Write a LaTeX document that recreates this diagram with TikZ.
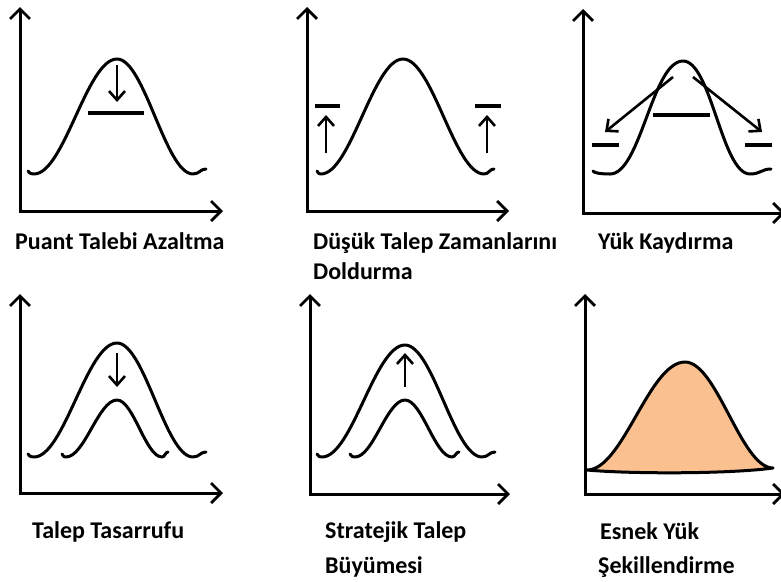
\documentclass[tikz,border=0pt]{standalone}
\usepackage{fontspec}
\setmainfont{Carlito}
\usetikzlibrary{arrows.meta}
\definecolor{peach}{RGB}{250,192,143}
\newcommand{\bellk}{0.363}
% #1 start x, #2 left min x, #3 peak x, #4 right min x, #5 hook end x, #6 base y, #7 peak y
\newcommand{\bellcurve}[7]{%
  \draw[curve] ({#1},{#6-3}) .. controls ({#1+2},{#6}) and ({#2-2},{#6}) .. ({#2},{#6})
    .. controls ({#2+\bellk*(#3-#2)},{#6}) and ({#3-\bellk*(#3-#2)},{#7}) .. ({#3},{#7})
    .. controls ({#3+\bellk*(#4-#3)},{#7}) and ({#4-\bellk*(#4-#3)},{#6}) .. ({#4},{#6})
    .. controls ({#4+0.5*(#5-#4)},{#6}) and ({#5-0.45*(#5-#4)},{#6-5}) .. ({#5},{#6-5});}
\tikzset{
  curve/.style={line width=3pt, line cap=round, line join=round},
  axis/.style={line width=3pt, line join=miter,
    arrows={Straight Barb[length=10pt,width=20pt,line width=2.8pt]-Straight Barb[length=10pt,width=20pt,line width=2.8pt]}},
  bar/.style={line width=4pt},
  arr/.style={line width=2.6pt, -{Straight Barb[length=9pt,width=16pt,line width=2.6pt]}},
  lbl/.style={anchor=base west, inner sep=0pt, font=\fontsize{24}{28}\selectfont\bfseries}
}
\begin{document}
\begin{tikzpicture}[x=1pt,y=-1pt]
\useasboundingbox (0,0) rectangle (781,581);
% ---------- Panel 1 ----------
\draw[axis] (20,7) -- (20,211) -- (223,211);
\bellcurve{28}{34}{117}{193}{206}{174}{59}
\coordinate (a1s) at (117,65); \coordinate (a1e) at (117,102);
\draw[arr] (a1s) -- (a1e);
\draw[bar] (88,113) -- (144,113);
\node[lbl] (l1) at (15,249) {Puant Talebi Azaltma};
% ---------- Panel 2 ----------
\draw[axis] (307,7) -- (307,211) -- (509,211);
\bellcurve{317}{321}{403}{484}{494}{174}{59}
\draw[bar] (315,106) -- (340,106);
\draw[bar] (475,106) -- (501,106);
\coordinate (a2s) at (326,153); \coordinate (a2e) at (326,115);
\coordinate (a3s) at (487,153); \coordinate (a3e) at (487,115);
\draw[arr] (a2s) -- (a2e);
\draw[arr] (a3s) -- (a3e);
\node[lbl] (l2a) at (313,249) {Düşük Talep Zamanlarını};
\node[lbl] (l2b) at (313,279) {Doldurma};
% ---------- Panel 3 ----------
\draw[axis] (583,9) -- (583,213) -- (785,213);
\renewcommand{\bellk}{0.42}
\bellcurve{593}{610}{683}{750}{771}{174}{61}
\renewcommand{\bellk}{0.363}
\draw[bar] (653,115) -- (710,115);
\draw[bar] (592,145) -- (619,145);
\draw[bar] (745,145) -- (772,145);
\coordinate (a4s) at (673,77); \coordinate (a4e) at (605,132);
\coordinate (a5s) at (693,77); \coordinate (a5e) at (762,132);
\draw[arr] (a4s) -- (a4e);
\draw[arr] (a5s) -- (a5e);
\node[lbl] (l3) at (598,249) {Yük Kaydırma};
% ---------- Panel 4 ----------
\draw[axis] (20,294) -- (20,493) -- (223,493);
\bellcurve{28}{34}{117}{193}{206}{457}{343}
\bellcurve{62}{66}{117}{162}{168}{457}{400}
\coordinate (a6s) at (117,353); \coordinate (a6e) at (117,387);
\draw[arr] (a6s) -- (a6e);
\node[lbl] (l4) at (32,538) {Talep Tasarrufu};
% ---------- Panel 5 ----------
\draw[axis] (310,294) -- (310,494) -- (510,494);
\bellcurve{317}{322}{405}{482}{495}{457}{345}
\bellcurve{350}{355}{405}{452}{459}{457}{400}
\coordinate (a7s) at (405,387); \coordinate (a7e) at (405,353);
\draw[arr] (a7s) -- (a7e);
\node[lbl] (l5a) at (325,538) {Stratejik Talep};
\node[lbl] (l5b) at (325,573) {Büyümesi};
% ---------- Panel 6 ----------
\draw[axis] (585,294) -- (585,494) -- (785,494);
\filldraw[curve, fill=peach] (587,470) .. controls (623,470) and (649,362) .. (685,362)
  .. controls (717,362) and (741,468) .. (773,468)
  .. controls (730,474) and (630,474) .. (587,470) -- cycle;
\node[lbl] (l6a) at (600,539) {Esnek Yük};
\node[lbl] (l6b) at (598,573) {Şekillendirme};
\end{tikzpicture}
\end{document}
